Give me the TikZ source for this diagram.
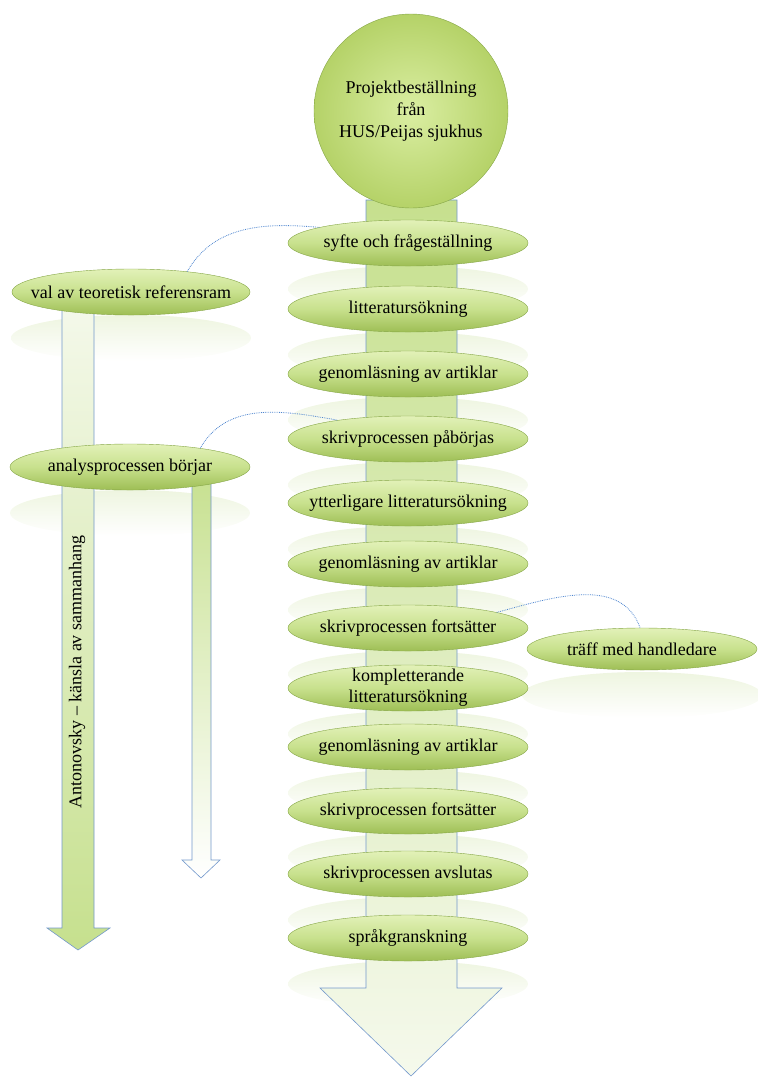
\documentclass[tikz,border=0pt]{standalone}
\usepackage{fontspec}
\setmainfont{Liberation Serif}
\usetikzlibrary{shapes.geometric, backgrounds}

\definecolor{ovaltop}{HTML}{E2F1B8}
\definecolor{ovalmid}{HTML}{C8E18D}
\definecolor{ovalbot}{HTML}{9EBE55}
\definecolor{ovalline}{HTML}{85A646}
\definecolor{balltop}{HTML}{DAEEA2}
\definecolor{ballbot}{HTML}{B5D268}
\definecolor{shaftline}{HTML}{7398CC}
\definecolor{linkblue}{HTML}{4F86CF}
\definecolor{shaftgreen}{HTML}{C6E08E}
\definecolor{palegreen}{HTML}{F5F9EC}
\definecolor{mirrorgreen}{HTML}{EEF5E0}

\begin{document}
\begin{tikzpicture}[
    x=1pt, y=1pt,
    font=\fontsize{18}{21}\selectfont,
    stage/.style={draw=ovalline, ellipse, top color=ovaltop, bottom color=ovalbot, middle color=ovalmid, minimum width=240pt, minimum height=46pt, inner xsep=-20pt, inner ysep=-6pt, align=center},
    origin/.style={draw=ovalline, circle, inner color=balltop, outer color=ballbot, minimum size=194pt, align=center, font=\fontsize{18}{22}\selectfont},
    link/.style={draw=linkblue, densely dotted, line width=0.8pt},
    mirror/.style={top color=mirrorgreen, bottom color=white},
    shaft/.style={draw=shaftline, line width=0.6pt}
]
    \useasboundingbox (0,0) rectangle (758,-1077);

    % Start of the project
    \node[origin] (order) at (411,-111) {Projektbeställning\\från\\HUS/Peijas sjukhus};

    % Main column
    \node[stage] (syfte) at (408,-243) {syfte och frågeställning};
    \node[stage] (sok1) at (408,-309) {litteratursökning};
    \node[stage] (las1) at (408,-374) {genomläsning av artiklar};
    \node[stage] (skriv1) at (408,-439) {skrivprocessen påbörjas};
    \node[stage] (sok2) at (408,-503) {ytterligare litteratursökning};
    \node[stage] (las2) at (408,-564) {genomläsning av artiklar};
    \node[stage] (skriv2) at (408,-628) {skrivprocessen fortsätter};
    \node[stage] (sok3) at (408,-688) {kompletterande\\litteratursökning};
    \node[stage] (las3) at (408,-747) {genomläsning av artiklar};
    \node[stage] (skriv3) at (408,-811) {skrivprocessen fortsätter};
    \node[stage] (skriv4) at (408,-874) {skrivprocessen avslutas};
    \node[stage] (sprak) at (408,-938) {språkgranskning};

    % Side steps
    \node[stage, minimum width=238pt] (teori) at (131,-292) {val av teoretisk referensram};
    \node[stage] (analys) at (130,-467) {analysprocessen börjar};
    \node[stage, minimum width=230pt, minimum height=42pt] (traff) at (642,-649) {träff med handledare};
    \node[rotate=90] (antonovsky) at (77,-672) {Antonovsky – känsla av sammanhang};

    % Dotted links
    \draw[link] (teori.20) to[out=60, in=175] (syfte.170);
    \draw[link] (analys.15) to[out=60, in=170] (skriv1.165);
    \draw[link] (skriv2.10) to[out=15, in=110] (traff.95);

    \begin{scope}[on background layer]
        % Reflections
        \foreach \n in {syfte,sok1,las1,skriv1,sok2,las2,skriv2,sok3,las3,skriv3,skriv4,sprak,teori,analys,traff}
            \shade[mirror] ([yshift=-46pt]\n.center) ellipse [x radius=120pt, y radius=23pt];

        % Arrows
        \shadedraw[shaft, top color=shaftgreen, bottom color=palegreen]
            (366,-200) -- (366,-988) -- (320,-988) -- (411,-1076) -- (502,-988) -- (457,-988) -- (457,-200) -- cycle;
        \shadedraw[shaft, top color=palegreen, bottom color=shaftgreen]
            (62,-292) -- (62,-928) -- (47,-928) -- (78,-950) -- (110,-928) -- (94,-928) -- (94,-292) -- cycle;
        \shadedraw[shaft, top color=shaftgreen, bottom color=white]
            (192,-467) -- (192,-860) -- (182,-860) -- (201,-878) -- (220,-860) -- (211,-860) -- (211,-467) -- cycle;
    \end{scope}
\end{tikzpicture}
\end{document}
